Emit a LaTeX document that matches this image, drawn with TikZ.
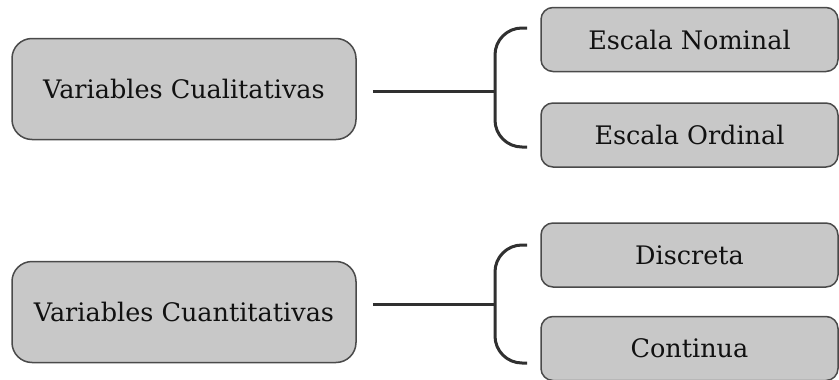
\documentclass[tikz,border=0pt]{standalone}
\usepackage{fontspec}
\setmainfont{DejaVu Serif}
\usetikzlibrary{calc}
\definecolor{boxfill}{HTML}{C8C8C8}
\definecolor{boxline}{HTML}{4A4A4A}
\definecolor{linecol}{HTML}{303030}
\definecolor{txt}{HTML}{111111}
\begin{document}
\begin{tikzpicture}[x=1pt,y=-1pt,
  bigbox/.style={draw=boxline,line width=1.5pt,fill=boxfill,rounded corners=20pt,
    minimum width=344pt,minimum height=101pt,inner sep=0pt,text=txt,
    font=\fontsize{25.5}{30}\selectfont},
  smallbox/.style={draw=boxline,line width=1.5pt,fill=boxfill,rounded corners=12pt,
    minimum width=297pt,minimum height=64pt,inner sep=0pt,text=txt,
    font=\fontsize{25.5}{30}\selectfont},
  link/.style={draw=linecol,line width=3pt},
  bracket/.style={draw=linecol,line width=3pt,rounded corners=27pt}]
\useasboundingbox (0,0) rectangle (839,380);
\fill[white] (0,0) rectangle (839,380);

\node[bigbox] (cual) at (184,89) {Variables Cualitativas};
\node[bigbox] (cuan) at (184,312) {Variables Cuantitativas};

\node[smallbox] (nom) at (689.5,39.5) {Escala Nominal};
\node[smallbox] (ord) at (689.5,135) {Escala Ordinal};
\node[smallbox] (dis) at (689.5,255) {Discreta};
\node[smallbox] (con) at (689.5,348.5) {Continua};

% upper group
\coordinate (u0) at ($(cual.east)+(16,2)$);
\coordinate (um) at (495,91);
\coordinate (ut) at (527,28);
\coordinate (ub) at (527,147);
\draw[link] (u0) -- (um);
\draw[bracket] (ut) -- (495,28) -- (495,147) -- (ub);

% lower group
\coordinate (l0) at ($(cuan.east)+(16,-8)$);
\coordinate (lm) at (495,304);
\coordinate (lt) at (527,245);
\coordinate (lb) at (527,363);
\draw[link] (l0) -- (lm);
\draw[bracket] (lt) -- (495,245) -- (495,363) -- (lb);
\end{tikzpicture}
\end{document}
